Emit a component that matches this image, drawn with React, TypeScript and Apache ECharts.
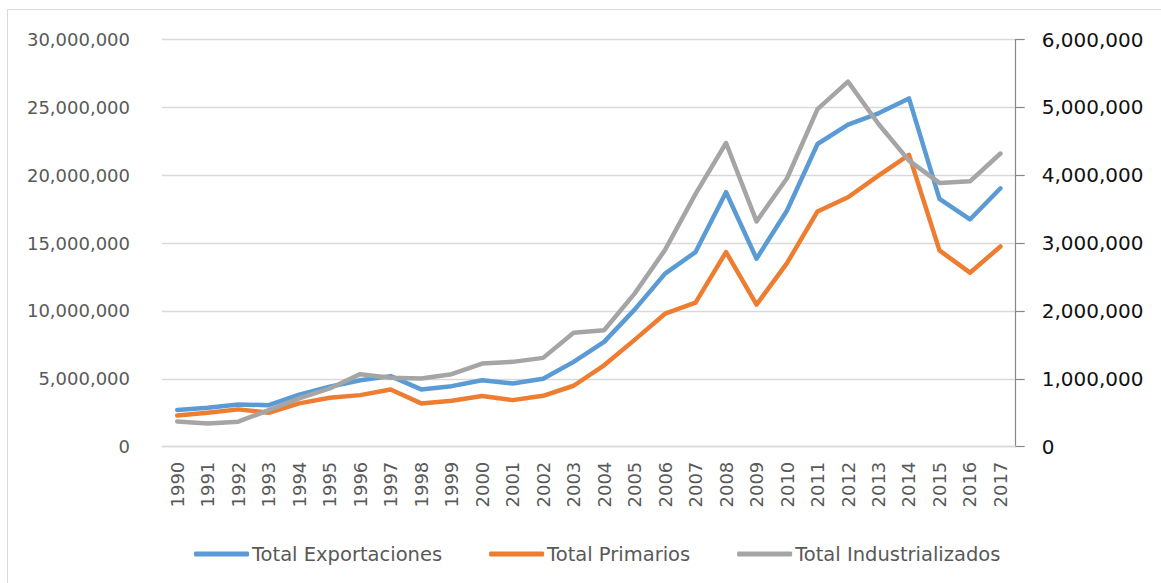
import React, { useEffect, useRef } from "react";
import * as echarts from "echarts";

const years = [
  "1990", "1991", "1992", "1993", "1994", "1995", "1996", "1997", "1998", "1999",
  "2000", "2001", "2002", "2003", "2004", "2005", "2006", "2007", "2008", "2009",
  "2010", "2011", "2012", "2013", "2014", "2015", "2016", "2017",
];

const totalExportaciones = [
  2700000, 2870000, 3110000, 3060000, 3830000, 4420000, 4900000, 5200000, 4220000, 4460000,
  4900000, 4660000, 5000000, 6250000, 7720000, 10100000, 12750000, 14340000, 18750000, 13850000,
  17400000, 22300000, 23730000, 24560000, 25660000, 18260000, 16740000, 19040000,
];

const totalPrimarios = [
  2300000, 2500000, 2750000, 2500000, 3190000, 3600000, 3800000, 4220000, 3190000, 3380000,
  3730000, 3430000, 3750000, 4490000, 6000000, 7870000, 9800000, 10610000, 14340000, 10470000,
  13530000, 17330000, 18380000, 19970000, 21500000, 14460000, 12820000, 14750000,
];

const totalIndustrializados = [
  373000, 343000, 368000, 539000, 711000, 858000, 1069000, 1015000, 1005000, 1069000,
  1225000, 1250000, 1309000, 1680000, 1716000, 2255000, 2900000, 3725000, 4475000, 3320000,
  3956000, 4975000, 5380000, 4755000, 4216000, 3887000, 3910000, 4320000,
];

const leftTicks = { min: 0, max: 30000000, interval: 5000000 };
const rightTicks = { min: 0, max: 6000000, interval: 1000000 };

const fmt = (v: number) => Math.round(v).toLocaleString("en-US");

export default function App() {
  const ref = useRef<HTMLDivElement>(null);

  useEffect(() => {
    if (!ref.current) return;
    const chart = echarts.init(ref.current, undefined, { renderer: "svg" });
    const font = "DejaVu Sans";
    chart.setOption({
      animation: false,
      backgroundColor: "#ffffff",
      graphic: [
        {
          type: "rect",
          shape: { x: 7.5, y: 9.5, width: 1200, height: 620 },
          style: { fill: "none", stroke: "#d9d9d9", lineWidth: 1 },
          silent: true,
          z: -10,
        },
      ],
      grid: { left: 162, right: 145.3, top: 39.5, bottom: 136.3, containLabel: false },
      legend: {
        left: 189,
        top: 539,
        itemGap: 47,
        itemWidth: 55,
        itemHeight: 5,
        icon: "roundRect",
        textStyle: { fontFamily: font, fontSize: 19.5, color: "#595959", padding: [0, 0, 0, -2] },
        data: ["Total Exportaciones", "Total Primarios", "Total Industrializados"],
      },
      xAxis: {
        type: "category",
        data: years,
        boundaryGap: true,
        axisLine: { show: true, lineStyle: { color: "#d9d9d9", width: 1.3 } },
        axisTick: { show: false },
        axisLabel: {
          rotate: 90,
          interval: 0,
          margin: 15,
          fontFamily: font,
          fontSize: 18,
          color: "#595959",
        },
        splitLine: { show: false },
      },
      yAxis: [
        {
          type: "value",
          position: "left",
          min: leftTicks.min,
          max: leftTicks.max,
          interval: leftTicks.interval,
          axisLine: { show: false },
          axisTick: { show: false },
          axisLabel: {
            margin: 32,
            fontFamily: font,
            fontSize: 18,
            color: "#595959",
            formatter: fmt,
          },
          splitLine: { show: true, lineStyle: { color: "#d9d9d9", width: 1.3 } },
        },
        {
          type: "value",
          position: "right",
          min: rightTicks.min,
          max: rightTicks.max,
          interval: rightTicks.interval,
          axisLine: { show: true, lineStyle: { color: "#888888", width: 1.2 } },
          axisTick: { show: true, inside: false, length: 9, lineStyle: { color: "#888888", width: 1.2 } },
          axisLabel: {
            margin: 26,
            fontFamily: font,
            fontSize: 20,
            color: "#111111",
            formatter: fmt,
          },
          splitLine: { show: false },
        },
      ],
      series: [
        {
          name: "Total Exportaciones",
          type: "line",
          yAxisIndex: 0,
          data: totalExportaciones,
          symbol: "none",
          color: "#5B9BD5",
          lineStyle: { width: 4.5, color: "#5B9BD5", cap: "round", join: "round" },
          z: 3,
        },
        {
          name: "Total Primarios",
          type: "line",
          yAxisIndex: 0,
          data: totalPrimarios,
          symbol: "none",
          color: "#ED7D31",
          lineStyle: { width: 4.5, color: "#ED7D31", cap: "round", join: "round" },
          z: 4,
        },
        {
          name: "Total Industrializados",
          type: "line",
          yAxisIndex: 1,
          data: totalIndustrializados,
          symbol: "none",
          color: "#A5A5A5",
          lineStyle: { width: 4.5, color: "#A5A5A5", cap: "round", join: "round" },
          z: 5,
        },
      ],
    });
    return () => chart.dispose();
  }, []);

  return (
    <div
      ref={ref}
      style={{ position: "absolute", left: 0, top: 0, width: 1161, height: 583 }}
    />
  );
}
